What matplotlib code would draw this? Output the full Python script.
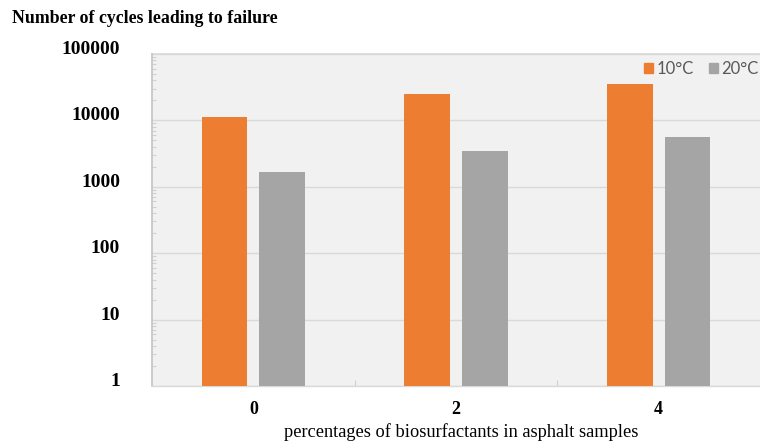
import matplotlib
matplotlib.use("Agg")
import matplotlib.pyplot as plt
from matplotlib.patches import Patch
import numpy as np

categories = ["0", "2", "4"]
series_names = ["10°C", "20°C"]
cycles_10c = [11200, 25000, 35000]
cycles_20c = [1650, 3500, 5700]
ytick_values = [1, 10, 100, 1000, 10000, 100000]
ytick_labels = ["1", "10", "100", "1000", "10000", "100000"]

orange = "#ED7D31"
gray = "#A5A5A5"

fig = plt.figure(figsize=(7.6, 4.41), dpi=100)
ax = fig.add_axes([0.2, 0.1247, 0.8, 0.753])
ax.set_facecolor("#F1F1F1")

x = np.arange(len(categories))
w = 0.225
off = 0.142
ax.bar(x - off, cycles_10c, width=w, color=orange, zorder=3)
ax.bar(x + off, cycles_20c, width=w, color=gray, zorder=3)

ax.set_yscale("log")
ax.set_ylim(1, 100000)
ax.set_xlim(-0.5, 2.5)

ax.set_yticks(ytick_values)
ax.set_yticklabels(ytick_labels, fontfamily="Liberation Serif",
                   fontweight="bold", fontsize=14, va="baseline")
ax.tick_params(axis="y", which="major", length=0, pad=23)
ax.tick_params(axis="y", which="minor", direction="in", length=3,
               color="#D0D0D0", width=0.8)
ax.yaxis.grid(True, which="major", color="#D9D9D9", linewidth=1, zorder=0)

ax.set_xticks(x)
ax.set_xticklabels(categories, fontfamily="Liberation Serif",
                   fontweight="bold", fontsize=13)
ax.tick_params(axis="x", which="major", length=0, pad=11)
ax.set_xticks([0.5, 1.5], minor=True)
ax.tick_params(axis="x", which="minor", direction="in", length=4,
               color="#D0D0D0", width=0.8)

for side in ["top", "right"]:
    ax.spines[side].set_visible(False)
ax.spines["left"].set_color("#C4C4C4")
ax.spines["left"].set_linewidth(1.2)
ax.spines["bottom"].set_color("#D9D9D9")
ax.spines["bottom"].set_linewidth(1)
ax.axhline(100000, color="#D9D9D9", linewidth=1.2, zorder=1, clip_on=False)

ax.set_xlabel("percentages of biosurfactants in asphalt samples",
              fontfamily="Liberation Serif", fontsize=13.2, labelpad=2)
ax.xaxis.set_label_coords(0.508, -0.112)

fig.text(0.016, 0.958, "Number of cycles leading to failure",
         fontfamily="Liberation Serif", fontweight="bold", fontsize=12.8,
         ha="left", va="center")

handles = [Patch(color=orange), Patch(color=gray)]
leg = ax.legend(handles, series_names, loc="upper right", ncol=2,
                frameon=False, handlelength=0.55, handleheight=0.55,
                handletextpad=0.2, columnspacing=0.9,
                bbox_to_anchor=(1.022, 1.025),
                prop={"family": "Lato", "size": 12})
for t in leg.get_texts():
    t.set_color("#595959")

fig.savefig("out.png", dpi=100)
